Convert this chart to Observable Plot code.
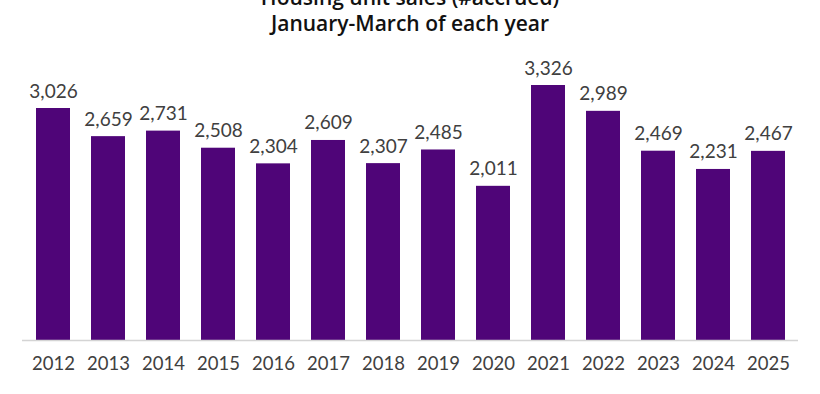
<!DOCTYPE html>
<html><head><meta charset="utf-8">
<script src="https://cdn.jsdelivr.net/npm/d3@7"></script>
<script src="https://cdn.jsdelivr.net/npm/@observablehq/plot@0.6"></script>
<style>
body{margin:0;background:#fff;width:820px;height:394px;overflow:hidden;}
#title{position:relative;height:38px;overflow:hidden;font-family:"Open Sans",sans-serif;font-weight:600;color:#111;text-align:center;font-size:21px;}
#t1{position:absolute;left:0;right:0;top:-16px;line-height:26px;}
#t2{position:absolute;left:0;right:0;top:10px;line-height:26px;}
</style></head>
<body>
<div id="title"><div id="t1">Housing unit sales (#accrued)</div><div id="t2">January-March of each year</div></div>
<div id="chart"></div>
<script>
const years = ["2012","2013","2014","2015","2016","2017","2018","2019","2020","2021","2022","2023","2024","2025"];
const sales = [3026,2659,2731,2508,2304,2609,2307,2485,2011,3326,2989,2469,2231,2467];
const data = years.map((y,i)=>({year:y, value:sales[i]}));
const chart = Plot.plot({
  width:820, height:356,
  marginLeft:22, marginRight:22, marginTop:47, marginBottom:54,
  style:{fontFamily:"Lato, sans-serif", fontSize:"18px", color:"#404040", background:"#fff", overflow:"visible"},
  x:{domain:years, paddingInner:0.387, paddingOuter:0.2, label:null},
  y:{domain:[0,3326], axis:null},
  marks:[
    Plot.barY(data,{x:"year", y:"value", fill:"#4f0578"}),
    Plot.ruleY([0],{stroke:"#d4d4d4", strokeWidth:1.5}),
    Plot.text(data,{x:"year", y:"value", text:d=>d3.format(",")(d.value), dy:-11, lineAnchor:"bottom", fontSize:19, fill:"#404040"}),
    Plot.axisX({tickSize:0, tickPadding:16, fontSize:18.5, fill:"#404040"})
  ]
});
document.getElementById("chart").appendChild(chart);
</script>
</body></html>
